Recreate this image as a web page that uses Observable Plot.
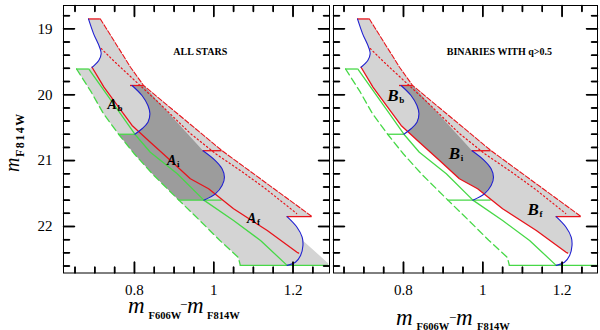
<!DOCTYPE html>
<html><head><meta charset="utf-8">
<script src="https://cdn.jsdelivr.net/npm/d3@7"></script>
<script src="https://cdn.jsdelivr.net/npm/@observablehq/plot@0.6"></script>
<style>
body{margin:0;background:#fff;}
#wrap{position:relative;width:600px;height:330px;overflow:hidden;font-family:"Liberation Serif",serif;}
#wrap > svg{position:absolute;top:0;}
</style></head><body><div id="wrap"></div>
<script>
// ---------- data (colour m_F606W - m_F814W, magnitude m_F814W) ----------
const xMajor = [0.8, 1, 1.2];
const xMinor = [0.65, 0.7, 0.75, 0.85, 0.9, 0.95, 1.05, 1.1, 1.15, 1.25];
const yMajor = [19, 20, 21, 22];
const yMinor = [18.8, 19.2, 19.4, 19.6, 19.8, 20.2, 20.4, 20.6, 20.8, 21.2, 21.4, 21.6, 21.8, 22.2, 22.4, 22.6];

const redSolid = [[0.693,19.583],[0.723,19.886],[0.760,20.190],[0.794,20.467],[0.840,20.720],[0.891,21.000],[0.941,21.276],[0.987,21.428],[1.050,21.731],[1.135,22.061],[1.210,22.390],[1.214,22.405]];
const redDashed = [[0.714,18.85],[0.727,18.976],[0.748,19.178],[0.769,19.379],[0.790,19.583],[0.823,19.86],[1.021,20.85],[1.248,21.85]];
const redDotted = [[0.716,19.299],[0.752,19.511],[0.790,19.724],[0.866,20.149],[0.941,20.589],[1.004,20.892],[1.067,21.150],[1.130,21.423],[1.209,21.803]];
const greenSolid = [[0.685,19.61],[0.723,19.936],[0.765,20.290],[0.801,20.60],[0.840,20.873],[0.908,21.200],[0.975,21.60],[1.050,21.909],[1.118,22.212],[1.185,22.59]];
const greenDashed = [[0.654,19.61],[0.690,19.95],[0.722,20.29],[0.760,20.60],[0.800,20.90],[0.845,21.20],[0.912,21.60],[0.965,21.91],[1.015,22.21],[1.062,22.47],[1.067,22.59]];
const blue1 = [[0.684,18.85],[0.697,19.076],[0.712,19.279],[0.716,19.379],[0.710,19.481],[0.693,19.583]];
const blue2 = [[0.794,19.86],[0.819,20.012],[0.834,20.164],[0.839,20.290],[0.834,20.417],[0.819,20.517],[0.801,20.60]];
const blue3 = [[0.973,20.85],[1.004,20.999],[1.021,21.124],[1.027,21.252],[1.021,21.378],[1.004,21.504],[0.975,21.60]];
const blue4 = [[1.185,21.85],[1.210,22.011],[1.223,22.162],[1.225,22.288],[1.219,22.440],[1.206,22.542],[1.185,22.59]];
// horizontal segments: [x1, x2, magnitude]
const redHoriz = [[0.684,0.714,18.85],[0.790,0.823,19.86],[0.973,1.021,20.85],[1.185,1.248,21.85]];
const greenHoriz = [[0.654,0.685,19.61],[0.760,0.801,20.60],[0.912,1.021,21.60],[1.067,1.289,22.59]];

// filled regions
const allStarsRegion = [[0.684,18.85],[0.714,18.85],[0.727,18.976],[0.748,19.178],[0.769,19.379],[0.790,19.583],[0.823,19.86],[1.021,20.85],[1.248,21.85],[1.185,21.85],[1.210,22.011],[1.223,22.162],[1.226,22.22],[1.289,22.56],[1.289,22.59],[1.067,22.59],[1.062,22.47],[1.015,22.21],[0.965,21.91],[0.912,21.60],[0.845,21.20],[0.800,20.90],[0.760,20.60],[0.722,20.29],[0.690,19.95],[0.654,19.61],[0.685,19.61],[0.693,19.583],[0.710,19.481],[0.716,19.379],[0.712,19.279],[0.697,19.076]];
const allStarsMid = [[0.794,19.86],[0.823,19.86],[0.973,20.85],[1.004,20.999],[1.021,21.124],[1.027,21.252],[1.021,21.378],[1.004,21.504],[0.975,21.60],[0.912,21.60],[0.845,21.20],[0.800,20.90],[0.760,20.60],[0.801,20.60],[0.819,20.517],[0.834,20.417],[0.839,20.290],[0.834,20.164],[0.819,20.012]];
const binRegion = [[0.684,18.85],[0.714,18.85],[0.727,18.976],[0.748,19.178],[0.769,19.379],[0.790,19.583],[0.823,19.86],[1.021,20.85],[1.248,21.85],[1.185,21.85],[1.210,22.011],[1.223,22.162],[1.225,22.288],[1.221,22.40],[1.214,22.405],[1.210,22.390],[1.135,22.061],[1.050,21.731],[0.987,21.428],[0.941,21.276],[0.891,21.0],[0.840,20.72],[0.794,20.467],[0.760,20.19],[0.723,19.886],[0.693,19.583],[0.710,19.481],[0.716,19.379],[0.712,19.279],[0.697,19.076]];
const binMid = [[0.794,19.86],[0.823,19.86],[0.973,20.85],[1.004,20.999],[1.021,21.124],[1.027,21.252],[1.021,21.378],[1.004,21.504],[0.987,21.428],[0.941,21.276],[0.891,21.0],[0.840,20.72],[0.809,20.55],[0.819,20.517],[0.834,20.417],[0.839,20.290],[0.834,20.164],[0.819,20.012]];

const labelsA = [{t:"A",s:"b",c:0.732,m:20.217},{t:"A",s:"i",c:0.882,m:21.06},{t:"A",s:"f",c:1.084,m:21.95}];
const labelsB = [{t:"B",s:"b",c:0.759,m:20.088},{t:"B",s:"i",c:0.914,m:20.973},{t:"B",s:"f",c:1.113,m:21.833}];
const titleA = [{t:"ALL STARS",c:0.966,m:19.352}];
const titleB = [{t:"BINARIES WITH q>0.5",c:1.042,m:19.345}];

// ---------- drawing ----------
const RED="#e8141b", BLUE="#1f1fd0", GREEN="#47d847", LIGHT="#d4d4d4", DARK="#9c9c9c";
const X=d=>d[0], Y=d=>d[1];
const MT=5, MB=57.5, HT=330, FH=HT-MT-MB;
const Y_DOMAIN=[18.646,22.706];
const tickShape = {draw(context, l) { context.moveTo(0, 0); context.lineTo(0, -l); }};

function panel({width, ml, mr, xDomain, light, dark, labels, title, letterSize, subDx, showYLabels}, useVectors) {
  const FW = width-ml-mr;
  const sx = d3.scaleLinear(xDomain,[0,FW]);
  const sy = d3.scaleLinear(Y_DOMAIN,[0,FH]);
  const dxLen = len => sx.invert(len)-xDomain[0];
  const dyLen = len => sy.invert(len)-Y_DOMAIN[0];
  const xa=xDomain[0], xb=xDomain[1], ya=Y_DOMAIN[0], yb=Y_DOMAIN[1];
  const TK = {stroke:"#000",strokeWidth:1.5};
  const tickLinks = (len, xs, ys) => [
    Plot.link(xs,{x1:d=>d,x2:d=>d,y1:()=>yb,y2:()=>yb-dyLen(len),...TK}),
    Plot.link(xs,{x1:d=>d,x2:d=>d,y1:()=>ya,y2:()=>ya+dyLen(len),...TK}),
    Plot.link(ys,{y1:d=>d,y2:d=>d,x1:()=>xa,x2:()=>xa+dxLen(len),...TK}),
    Plot.link(ys,{y1:d=>d,y2:d=>d,x1:()=>xb,x2:()=>xb-dxLen(len),...TK})
  ];
  const tickVectors = (len, xs, ys) => [
    Plot.vector(xs,{x:d=>d,frameAnchor:"bottom",length:len,rotate:0,anchor:"start",shape:tickShape,...TK}),
    Plot.vector(xs,{x:d=>d,frameAnchor:"top",length:len,rotate:180,anchor:"start",shape:tickShape,...TK}),
    Plot.vector(ys,{y:d=>d,frameAnchor:"left",length:len,rotate:90,anchor:"start",shape:tickShape,...TK}),
    Plot.vector(ys,{y:d=>d,frameAnchor:"right",length:len,rotate:-90,anchor:"start",shape:tickShape,...TK})
  ];
  const marks = [
    Plot.line(light,{x:X,y:Y,fill:LIGHT,stroke:"none"}),
    Plot.line(dark,{x:X,y:Y,fill:DARK,stroke:"none"}),
    Plot.line(greenDashed,{x:X,y:Y,stroke:GREEN,strokeWidth:1.3,strokeDasharray:"7,4"}),
    Plot.line(greenSolid,{x:X,y:Y,stroke:GREEN,strokeWidth:1.3}),
    Plot.ruleY(greenHoriz,{y:d=>d[2],x1:d=>d[0],x2:d=>d[1],stroke:GREEN,strokeWidth:1.3}),
    Plot.line(redSolid,{x:X,y:Y,stroke:RED,strokeWidth:1.3}),
    Plot.line(redDashed,{x:X,y:Y,stroke:RED,strokeWidth:1.1,strokeDasharray:"5,2"}),
    Plot.line(redDotted,{x:X,y:Y,stroke:RED,strokeWidth:1.2,strokeDasharray:"1.3,2.7"}),
    Plot.ruleY(redHoriz,{y:d=>d[2],x1:d=>d[0],x2:d=>d[1],stroke:RED,strokeWidth:1.3}),
    ...[blue1,blue2,blue3,blue4].map(b=>Plot.line(b,{x:X,y:Y,stroke:BLUE,strokeWidth:1.1,curve:"catmull-rom"})),
    Plot.text(labels,{x:"c",y:"m",text:"t",textAnchor:"start",lineAnchor:"bottom",fontSize:letterSize,fontStyle:"italic",fontWeight:"bold"}),
    Plot.text(labels,{x:"c",y:"m",text:"s",textAnchor:"start",lineAnchor:"bottom",dx:subDx,dy:2,fontSize:9,fontWeight:"bold"}),
    Plot.text(title,{x:"c",y:"m",text:"t",fontSize:10,fontWeight:"bold"}),
    Plot.text(xMajor,{x:d=>d,frameAnchor:"bottom",text:d=>d3.format("~g")(d),lineAnchor:"top",dy:11,fontSize:15}),
    Plot.frame({stroke:"black",strokeWidth:1}),
    ...tickLinks(6, xMinor, yMinor),
    ...tickLinks(11, xMajor, yMajor),
    ...(useVectors ? [...tickVectors(6, xMinor, yMinor), ...tickVectors(11, xMajor, yMajor)] : [])
  ];
  if (showYLabels) marks.push(Plot.text(yMajor,{y:d=>d,frameAnchor:"left",text:d=>String(d),textAnchor:"end",lineAnchor:"middle",dx:-11,fontSize:15}));
  return Plot.plot({
    width, height:HT, marginLeft:ml, marginRight:mr, marginTop:MT, marginBottom:MB,
    style:{fontFamily:"Liberation Serif, serif",fontSize:"15px",background:"transparent",color:"black"},
    x:{domain:xDomain,axis:null},
    y:{domain:Y_DOMAIN,reverse:true,axis:null},
    marks
  });
}
function safePanel(opts){ try { return panel(opts, true); } catch(e) { return panel(opts, false); } }

const wrap = document.getElementById("wrap");
const left = safePanel({width:330, ml:63, mr:1, xDomain:[0.621,1.292], light:allStarsRegion, dark:allStarsMid, labels:labelsA, title:titleA, letterSize:14, subDx:10, showYLabels:true});
left.style.left = "0px";
const right = safePanel({width:270, ml:3, mr:3, xDomain:[0.6235,1.2893], light:binRegion, dark:binMid, labels:labelsB, title:titleB, letterSize:17, subDx:12, showYLabels:false});
right.style.left = "330px";
wrap.appendChild(left);
wrap.appendChild(right);

// axis titles (real text with subscripts)
const NS="http://www.w3.org/2000/svg";
const ov=document.createElementNS(NS,"svg");
ov.setAttribute("width",600); ov.setAttribute("height",330);
ov.style.left="0px"; ov.style.fontFamily="Liberation Serif, serif"; ov.style.pointerEvents="none";
function txt(s,x,y,opt={}){
  const t=document.createElementNS(NS,"text");
  t.textContent=s;
  if(opt.rot){t.setAttribute("transform",`translate(${x},${y}) rotate(-90)`);} else {t.setAttribute("x",x);t.setAttribute("y",y);}
  t.setAttribute("font-size",opt.size||10);
  if(opt.italic) t.setAttribute("font-style","italic");
  if(opt.bold) t.setAttribute("font-weight","bold");
  if(opt.ls) t.setAttribute("letter-spacing",opt.ls);
  ov.appendChild(t);
}
// left x title
txt("m",128,313,{size:23,italic:true});
txt("F606W",148.5,318.5,{size:10.5,bold:true});
txt("\u2212",180,309,{size:13});
txt("m",187,313,{size:23,italic:true});
txt("F814W",207,318.5,{size:10.5,bold:true});
// right x title
txt("m",396,325,{size:23,italic:true});
txt("F606W",416.5,329.5,{size:10.5,bold:true});
txt("\u2212",449,322,{size:13});
txt("m",456,325,{size:23,italic:true});
txt("F814W",477,329.5,{size:10.5,bold:true});
// y title
txt("m",18.5,172,{size:20,italic:true,rot:true});
txt("F814W",24,157,{size:12,bold:true,rot:true,ls:1.5});
wrap.appendChild(ov);
</script>
</body></html>
